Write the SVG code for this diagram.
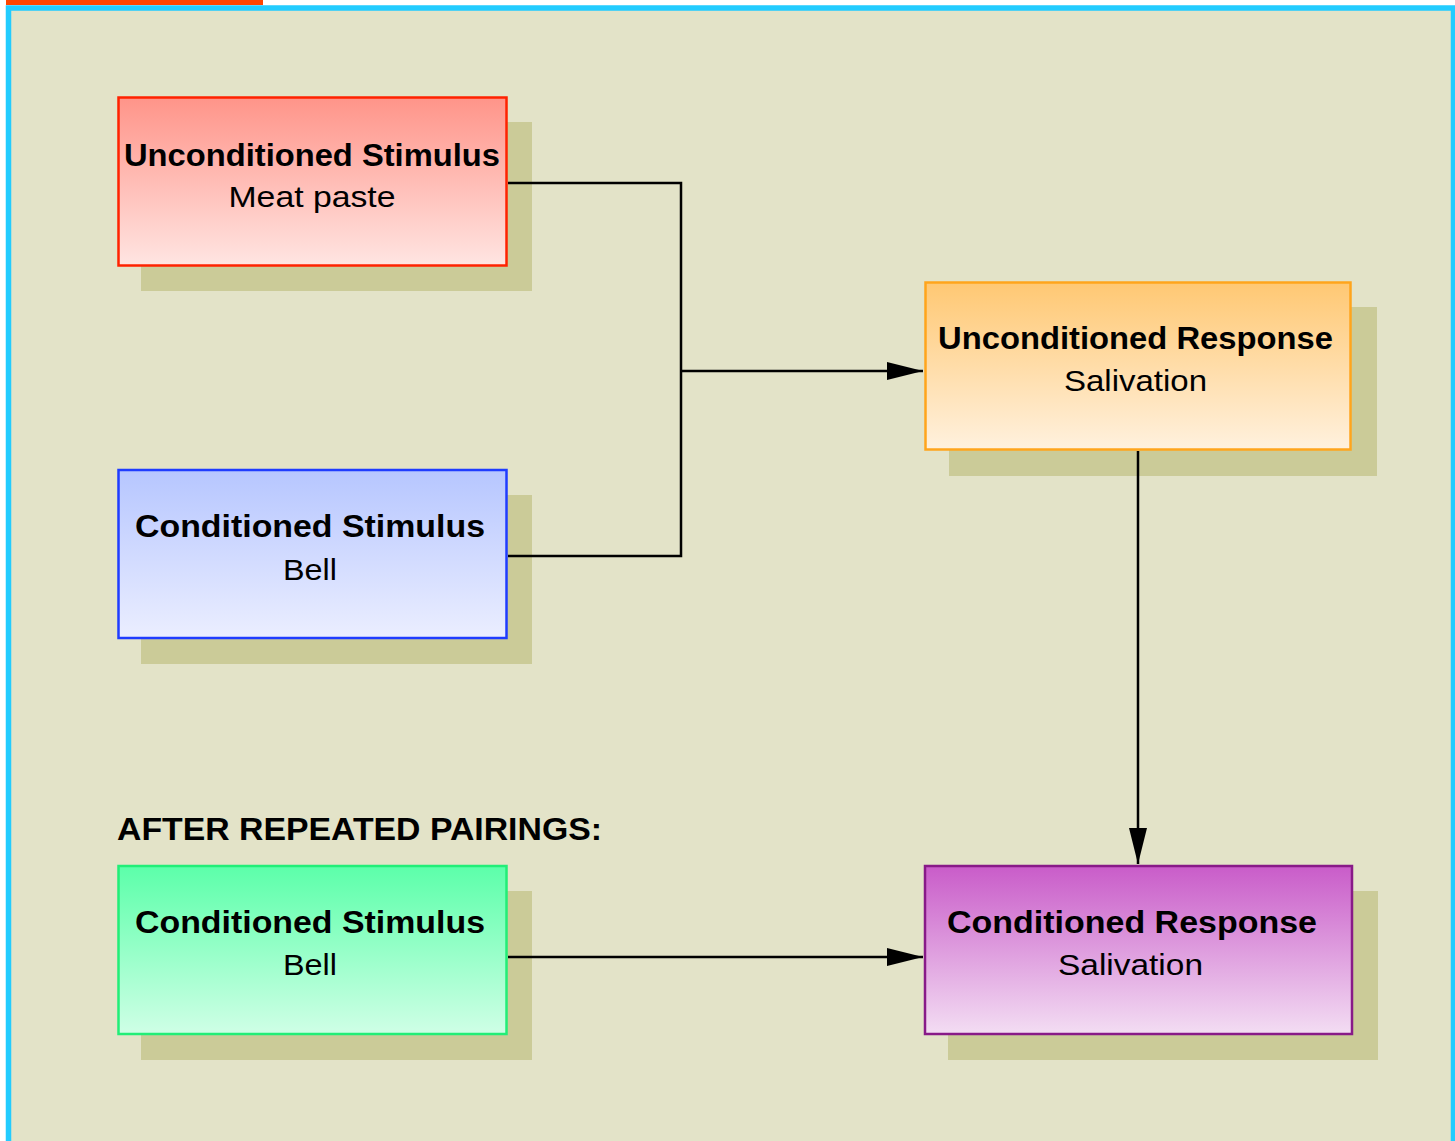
<svg xmlns="http://www.w3.org/2000/svg" width="1455" height="1141" viewBox="0 0 1455 1141">
  <style>
    .shadow { fill: #cbcb98; }
    .box { stroke-width: 2.5; }
    .title { font-family: "Liberation Sans", Arial, Helvetica, sans-serif; font-weight: bold; font-size: 31px; fill: #000; }
    .sub { font-family: "Liberation Sans", Arial, Helvetica, sans-serif; font-size: 30px; fill: #000; }
    .wire { fill: none; stroke: #000; stroke-width: 2.5; }
  </style>
  <defs>
    <linearGradient id="gRed" x1="0" y1="0" x2="0" y2="1">
      <stop offset="0" stop-color="#ff9489"/>
      <stop offset="1" stop-color="#ffe5e2"/>
    </linearGradient>
    <linearGradient id="gOrange" x1="0" y1="0" x2="0" y2="1">
      <stop offset="0" stop-color="#ffc873"/>
      <stop offset="1" stop-color="#fff1de"/>
    </linearGradient>
    <linearGradient id="gBlue" x1="0" y1="0" x2="0" y2="1">
      <stop offset="0" stop-color="#b6c6ff"/>
      <stop offset="1" stop-color="#ebeeff"/>
    </linearGradient>
    <linearGradient id="gGreen" x1="0" y1="0" x2="0" y2="1">
      <stop offset="0" stop-color="#5cffaa"/>
      <stop offset="1" stop-color="#cfffe6"/>
    </linearGradient>
    <linearGradient id="gPurple" x1="0" y1="0" x2="0" y2="1">
      <stop offset="0" stop-color="#c95cc9"/>
      <stop offset="1" stop-color="#f3ddf3"/>
    </linearGradient>
    <marker id="arrow" markerUnits="userSpaceOnUse" markerWidth="36" markerHeight="20" refX="36" refY="10" orient="auto">
      <path d="M0,1 L36,10 L0,19 Z" fill="#000"/>
    </marker>
  </defs>

  <!-- page background and frame -->
  <rect x="0" y="0" width="1455" height="1141" fill="#ffffff"/>
  <rect x="8.5" y="8" width="1445" height="1150" fill="#e3e3c8" stroke="#22ccff" stroke-width="5.5"/>
  <rect x="6" y="0" width="257" height="5" fill="#ff4400"/>

  <g id="node-us">
    <rect class="shadow" x="141" y="122" width="391" height="169"/>
    <rect class="box" x="118.5" y="97.5" width="388" height="168" fill="url(#gRed)" stroke="#ff2200"/>
    <text class="title" x="312" y="166" text-anchor="middle" textLength="376" lengthAdjust="spacingAndGlyphs">Unconditioned Stimulus</text>
    <text class="sub" x="312" y="207" text-anchor="middle" textLength="167" lengthAdjust="spacingAndGlyphs">Meat paste</text>
  </g>

  <g id="node-ur">
    <rect class="shadow" x="949" y="307" width="428" height="169"/>
    <rect class="box" x="925.5" y="282.5" width="425" height="167" fill="url(#gOrange)" stroke="#ffa51c"/>
    <text class="title" x="1135.5" y="349" text-anchor="middle" textLength="395" lengthAdjust="spacingAndGlyphs">Unconditioned Response</text>
    <text class="sub" x="1135.5" y="391" text-anchor="middle" textLength="143" lengthAdjust="spacingAndGlyphs">Salivation</text>
  </g>

  <g id="node-cs">
    <rect class="shadow" x="141" y="495" width="391" height="169"/>
    <rect class="box" x="118.5" y="470" width="388" height="168" fill="url(#gBlue)" stroke="#1f3cff"/>
    <text class="title" x="310" y="537" text-anchor="middle" textLength="350" lengthAdjust="spacingAndGlyphs">Conditioned Stimulus</text>
    <text class="sub" x="310" y="580" text-anchor="middle" textLength="54" lengthAdjust="spacingAndGlyphs">Bell</text>
  </g>

  <g id="label-after">
    <text class="title" x="117" y="840" textLength="485" lengthAdjust="spacingAndGlyphs">AFTER REPEATED PAIRINGS:</text>
  </g>

  <g id="node-cs2">
    <rect class="shadow" x="141" y="891" width="391" height="169"/>
    <rect class="box" x="118.5" y="866" width="388" height="168" fill="url(#gGreen)" stroke="#22ee77"/>
    <text class="title" x="310" y="933" text-anchor="middle" textLength="350" lengthAdjust="spacingAndGlyphs">Conditioned Stimulus</text>
    <text class="sub" x="310" y="975" text-anchor="middle" textLength="54" lengthAdjust="spacingAndGlyphs">Bell</text>
  </g>

  <g id="node-cr">
    <rect class="shadow" x="948" y="891" width="430" height="169"/>
    <rect class="box" x="925" y="866" width="427" height="168" fill="url(#gPurple)" stroke="#881a88"/>
    <text class="title" x="1132" y="933" text-anchor="middle" textLength="370" lengthAdjust="spacingAndGlyphs">Conditioned Response</text>
    <text class="sub" x="1130.5" y="975" text-anchor="middle" textLength="145" lengthAdjust="spacingAndGlyphs">Salivation</text>
  </g>

  <!-- connectors drawn on top of the drop shadows -->
  <g id="connectors">
    <polyline class="wire" points="508,183 681,183 681,556 508,556"/>
    <line class="wire" x1="681" y1="371" x2="923" y2="371" marker-end="url(#arrow)"/>
    <line class="wire" x1="1138" y1="451" x2="1138" y2="864" marker-end="url(#arrow)"/>
    <line class="wire" x1="508" y1="957" x2="923" y2="957" marker-end="url(#arrow)"/>
  </g>
</svg>
